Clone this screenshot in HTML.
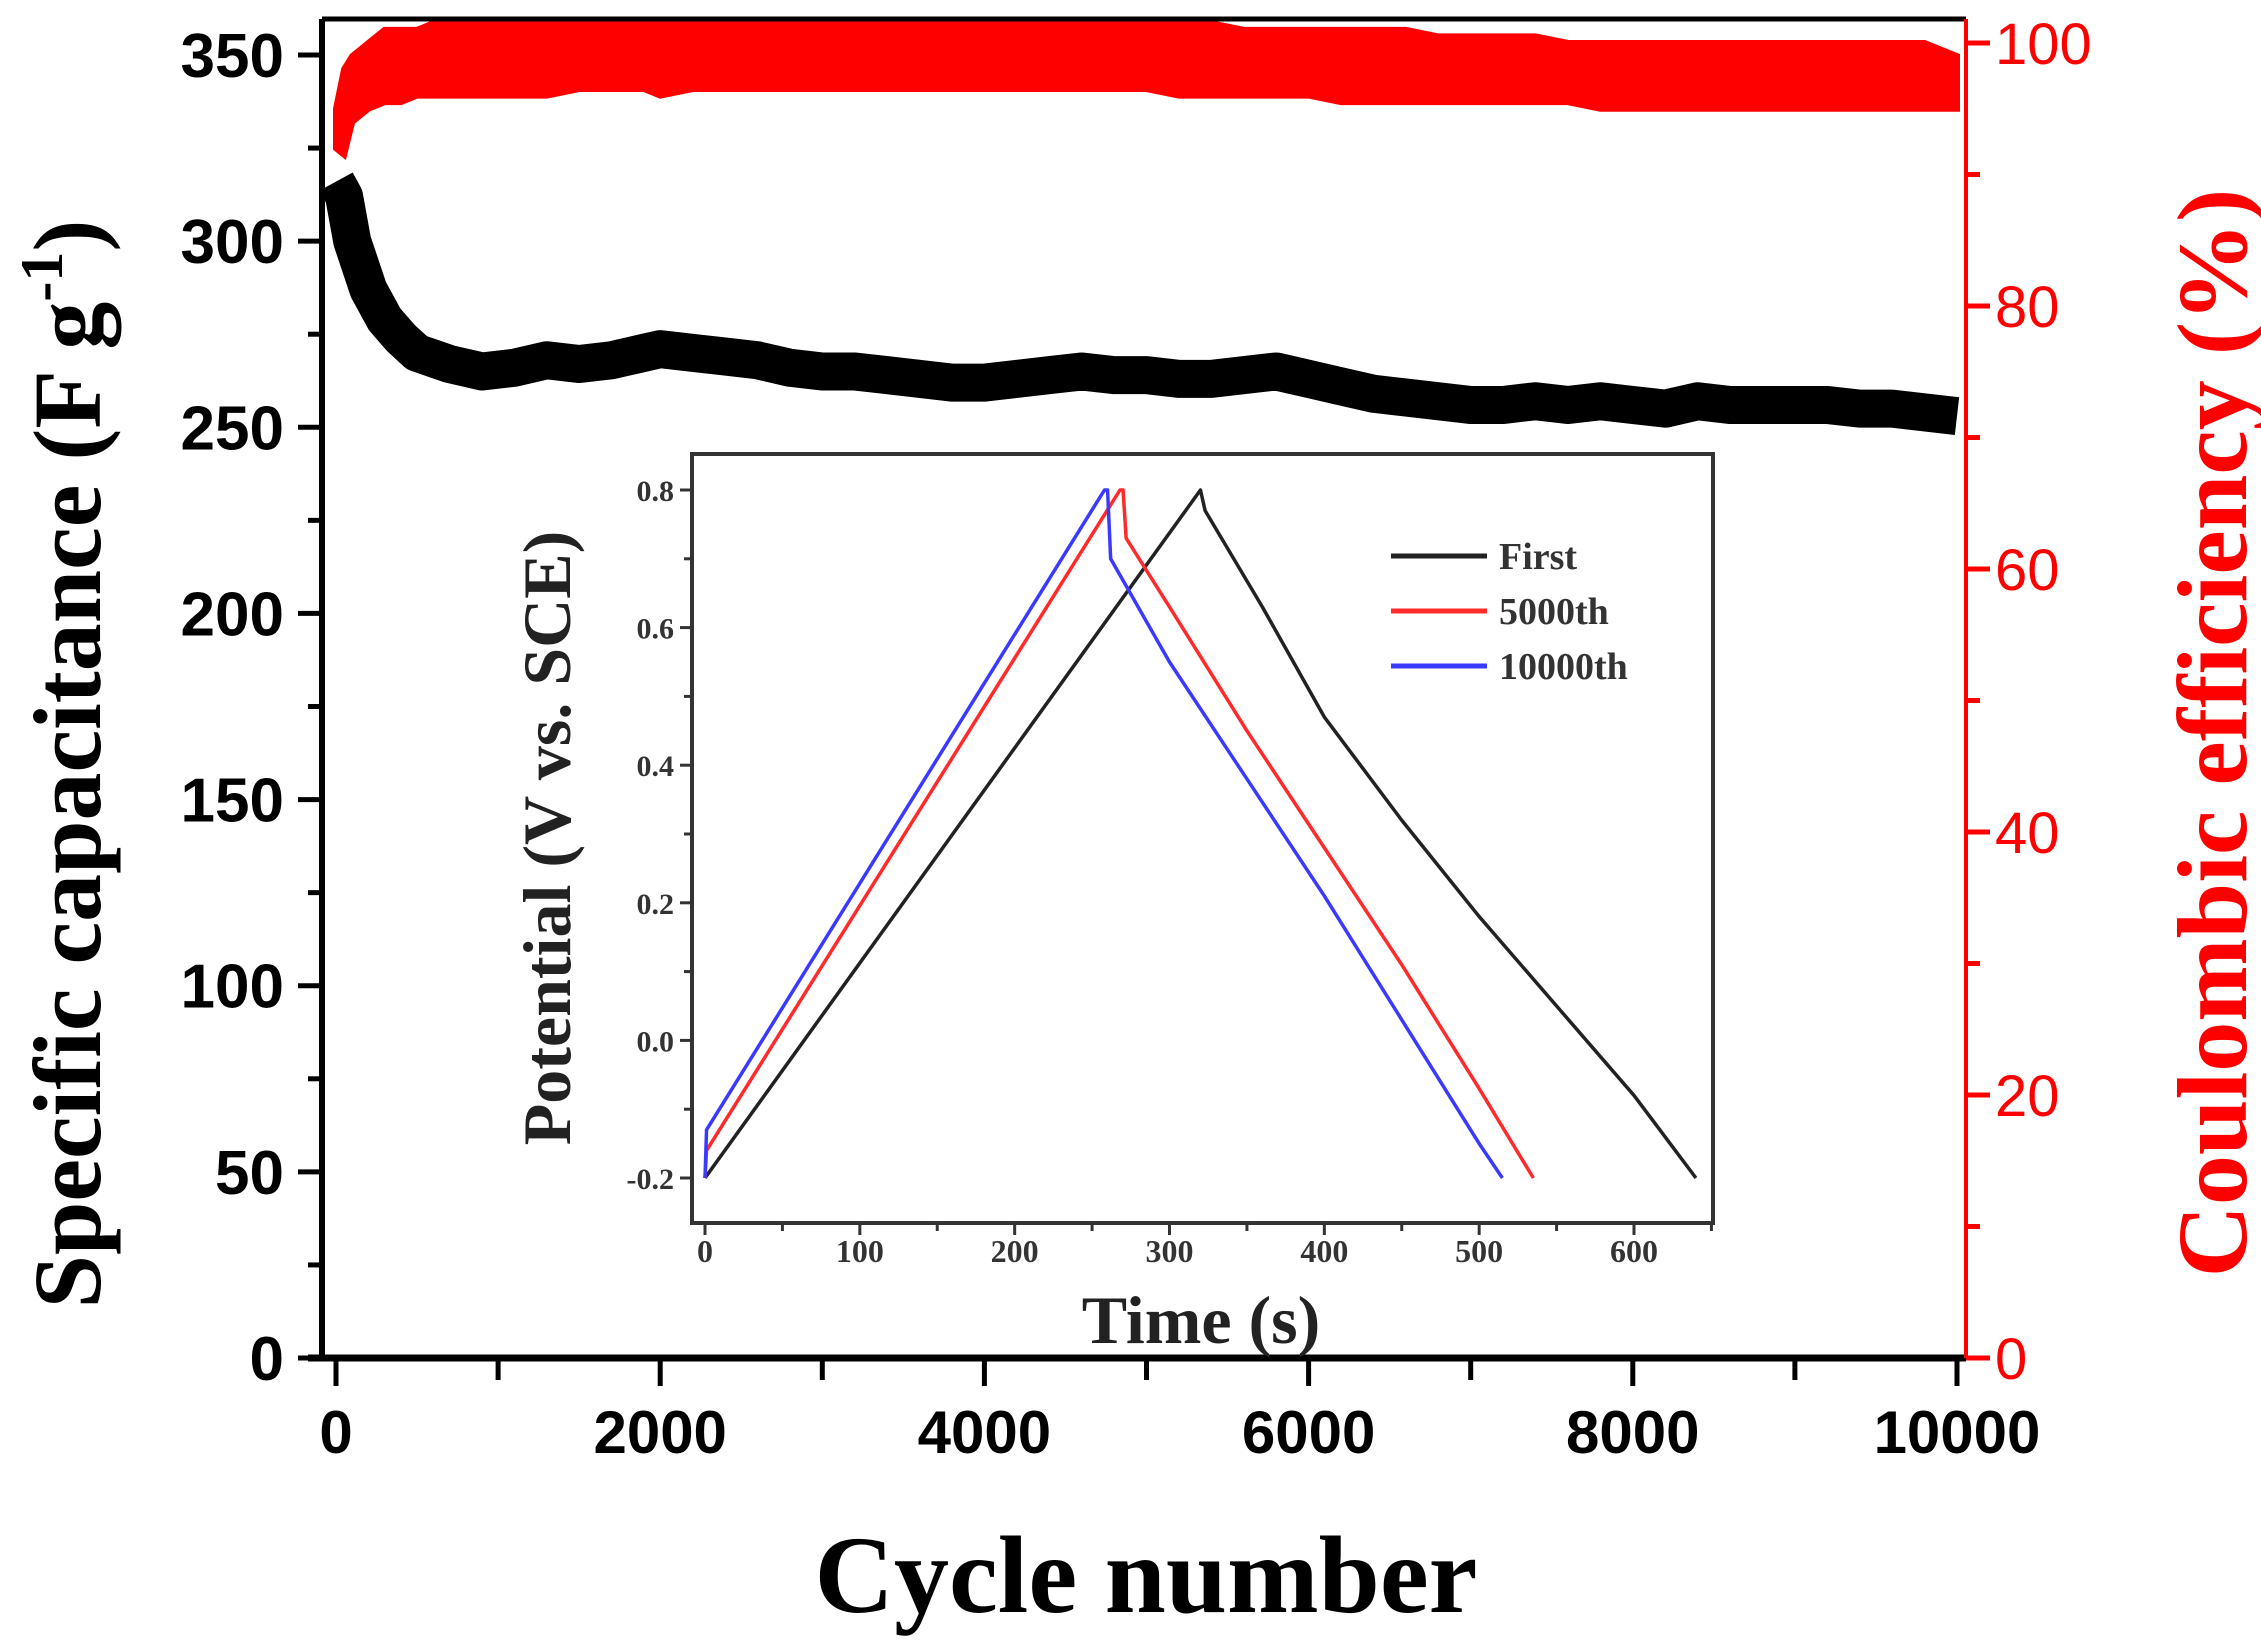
<!DOCTYPE html>
<html><head><meta charset="utf-8"><style>
html,body{margin:0;padding:0;background:#fff;}
svg{display:block;}
</style></head><body>
<svg id="chart" width="2261" height="1645" viewBox="0 0 2261 1645" xmlns="http://www.w3.org/2000/svg">
<defs><clipPath id="mainclip"><rect x="322" y="19" width="1644" height="1339"/></clipPath></defs>
<g id="main"></g>
<g id="inset"></g>
</svg>
<script>
// ---- main chart data ----
const cycles = [0,50,100,200,300,400,500,700,900,1100,1300,1500,1700,1900,2000,2200,2400,2600,2800,3000,3200,3400,3600,3800,4000,4200,4400,4600,4800,5000,5200,5400,5600,5800,6000,6200,6400,6600,6800,7000,7200,7400,7600,7800,8000,8200,8400,8600,8800,9000,9200,9400,9600,9800,10000];
const capacitance = [316,312,300,287,279,274,270,267,265,266,268,267,268,270,271,270,269,268,266,265,265,264,263,262,262,263,264,265,264,264,263,263,264,265,263,261,259,258,257,256,256,257,256,257,256,255,257,256,256,256,256,255,255,254,253];
const ceUpper = [95,98,99,100,101,101,101,102,102,102,102,102,102,102,102,102,102,102,102,102,102,102,102,102,102,102,102,102,102,102,102,101.5,101,101,101,101,101,101,100.5,100.5,100.5,100.5,100,100,100,100,100,100,100,100,100,100,100,100,99];
const ceLower = [92,91.5,94,95,95.5,95.5,96,96,96,96,96,96.5,96.5,96.5,96,96.5,96.5,96.5,96.5,96.5,96.5,96.5,96.5,96.5,96.5,96.5,96.5,96.5,96.5,96.5,96,96,96,96,96,95.5,95.5,95.5,95.5,95.5,95.5,95.5,95.5,95,95,95,95,95,95,95,95,95,95,95,95];
const xTicks = [0,2000,4000,6000,8000,10000];
const yLeftTicks = [0,50,100,150,200,250,300,350];
const yRightTicks = [0,20,40,60,80,100];

// ---- inset data ----
const firstT = [0,320,323,360,400,450,500,550,600,640];
const firstV = [-0.2,0.8,0.77,0.63,0.47,0.32,0.18,0.05,-0.08,-0.2];
const t5000 = [0,1,268,270,272,300,350,400,450,500,535];
const v5000 = [-0.2,-0.16,0.8,0.8,0.73,0.63,0.45,0.28,0.11,-0.07,-0.2];
const t10000 = [0,1,258,260,262,300,350,400,450,500,515];
const v10000 = [-0.2,-0.13,0.8,0.8,0.70,0.55,0.38,0.21,0.03,-0.15,-0.2];
const insetXTicks = [0,100,200,300,400,500,600];
const insetYTicks = [-0.2,0.0,0.2,0.4,0.6,0.8];
const legendLabels = ['First','5000th','10000th'];

const NS='http://www.w3.org/2000/svg';
function mk(tag, attrs, parent, text){
  const e=document.createElementNS(NS,tag);
  for(const k in attrs) e.setAttribute(k,attrs[k]);
  if(text!==undefined) e.textContent=text;
  parent.appendChild(e); return e;
}
const main=document.getElementById('main');
const inset=document.getElementById('inset');

// main axes
const L=322,R=1966,T=19,B=1358;
const xs=v=>336+(v-0)*(1957-336)/10000;
const yl=v=>1358-v*(1358-55)/350;
const yr=v=>1358-v*(1358-43)/100;

// CE band
const ceG=mk('g',{'clip-path':'url(#mainclip)'},main);
let d='';
cycles.forEach((c,i)=>{d+=(i?'L':'M')+xs(c)+','+yr(ceUpper[i]);});
for(let i=cycles.length-1;i>=0;i--) d+='L'+xs(cycles[i])+','+yr(ceLower[i]);
const ceBand=mk('path',{d:d+'Z',fill:'#ff0000',stroke:'#ff0000','stroke-width':6},ceG);



// capacitance thick line
let pc='';
cycles.forEach((c,i)=>{pc+=(i?'L':'M')+xs(c)+','+yl(capacitance[i]);});
const capLine=mk('path',{d:pc,fill:'none',stroke:'#000','stroke-width':38,'stroke-linejoin':'round','stroke-linecap':'butt'},mk('g',{'clip-path':'url(#mainclip)'},main));



// frame
mk('line',{x1:L,y1:T,x2:R,y2:T,stroke:'#000','stroke-width':5},main);
mk('line',{x1:L,y1:T,x2:L,y2:B+2,stroke:'#000','stroke-width':6},main);
mk('line',{x1:L-14,y1:B,x2:R,y2:B,stroke:'#000','stroke-width':7},main);
const rAxis=mk('line',{x1:R,y1:T,x2:R,y2:B,stroke:'#ff0000','stroke-width':4},main);



// x ticks
for(let v=0;v<=10000;v+=1000){
  mk('line',{x1:xs(v),y1:B,x2:xs(v),y2:B+(v%2000===0?28:22),stroke:'#000','stroke-width':5},main);
}
xTicks.forEach(v=>{
  const t=mk('text',{x:xs(v),y:1453,'text-anchor':'middle','font-family':'Liberation Sans, sans-serif','font-weight':'bold','font-size':60,fill:'#000'},main,String(v));
  
  
});
// left ticks
for(let v=0;v<=350;v+=25){
  mk('line',{x1:L,y1:yl(v),x2:L-(v%50===0?24:14),y2:yl(v),stroke:'#000','stroke-width':5},main);
}
yLeftTicks.forEach(v=>{
  const t=mk('text',{x:284,y:yl(v)+22,'text-anchor':'end','font-family':'Liberation Sans, sans-serif','font-weight':'bold','font-size':62,fill:'#000'},main,String(v));
  
  
});
// right ticks
for(let v=0;v<=100;v+=10){
  mk('line',{x1:R,y1:yr(v),x2:R+(v%20===0?24:14),y2:yr(v),stroke:'#ff0000','stroke-width':5},main);
}
yRightTicks.forEach(v=>{
  const t=mk('text',{x:1995,y:yr(v)+21,'text-anchor':'start','font-family':'Liberation Sans, sans-serif','font-size':58,fill:'#ff0000'},main,String(v));
  
  
});
// titles
const xt=mk('text',{x:1146,y:1612,'text-anchor':'middle','font-family':'Liberation Serif, serif','font-weight':'bold','font-size':110,fill:'#000'},main,'Cycle number');


const ylt=mk('text',{x:0,y:0,transform:'translate(100,764) rotate(-90)','text-anchor':'middle','font-family':'Liberation Serif, serif','font-weight':'bold','font-size':96,fill:'#000'},main);


ylt.appendChild(document.createTextNode('Specific capacitance (F g'));
mk('tspan',{'font-size':60,dy:-38},ylt,'-1');
mk('tspan',{dy:38},ylt,')');
const yrt=mk('text',{x:0,y:0,transform:'translate(2246,733) rotate(-90)','text-anchor':'middle','font-family':'Liberation Serif, serif','font-weight':'bold','font-size':100,fill:'#ff0000'},main,'Coulombic efficiency (%)');



// ---- inset ----
const iL=692,iR=1713,iT=454,iB=1223;
const ix=v=>705+v*(1634-705)/600;
const iy=v=>1178-(v+0.2)*(1178-490)/1.0;
mk('rect',{x:iL,y:iT,width:iR-iL,height:iB-iT,fill:'#fff',stroke:'#333','stroke-width':4},inset);
function series(ts,vs,color,name){
  let p='';ts.forEach((t,i)=>{p+=(i?'L':'M')+ix(t)+','+iy(vs[i]);});
  const e=mk('path',{d:p,fill:'none',stroke:color,'stroke-width':3.5,'stroke-linejoin':'round'},inset);
  
  
}
series(firstT,firstV,'#222','first-cycle-line');
series(t5000,v5000,'#ff2a2a','cycle-5000-line');
series(t10000,v10000,'#3a3aff','cycle-10000-line');
for(let v=0;v<=650;v+=50){
  mk('line',{x1:ix(v),y1:iB,x2:ix(v),y2:iB+(v%100===0?12:8),stroke:'#333','stroke-width':3},inset);
}
insetXTicks.forEach(v=>{
  const t=mk('text',{x:ix(v),y:1262,'text-anchor':'middle','font-family':'Liberation Serif, serif','font-weight':'bold','font-size':32,fill:'#333'},inset,String(v));
  
  
});
for(let v=-0.2;v<=0.81;v+=0.1){
  mk('line',{x1:iL,y1:iy(v),x2:iL-(Math.round(v*10)%2===0?12:8),y2:iy(v),stroke:'#333','stroke-width':3},inset);
}
insetYTicks.forEach(v=>{
  const t=mk('text',{x:674,y:iy(v)+11,'text-anchor':'end','font-family':'Liberation Serif, serif','font-weight':'bold','font-size':30,fill:'#333'},inset,v.toFixed(1));
  
  
});
const ixt=mk('text',{x:1201,y:1343,'text-anchor':'middle','font-family':'Liberation Serif, serif','font-weight':'bold','font-size':68,fill:'#222'},inset,'Time (s)');


const iyt=mk('text',{x:0,y:0,transform:'translate(570,838) rotate(-90)','text-anchor':'middle','font-family':'Liberation Serif, serif','font-weight':'bold','font-size':68,fill:'#222'},inset,'Potential (V vs. SCE)');


const legColors=['#222','#ff2a2a','#3a3aff'];
legendLabels.forEach((lab,i)=>{
  const y=556+i*55;
  const ln=mk('line',{x1:1391,y1:y,x2:1487,y2:y,stroke:legColors[i],'stroke-width':5},inset);
  
  
  const t=mk('text',{x:1499,y:y+13,'font-family':'Liberation Serif, serif','font-weight':'bold','font-size':38,fill:'#333'},inset,lab);
  
  
});
</script>
</body></html>
